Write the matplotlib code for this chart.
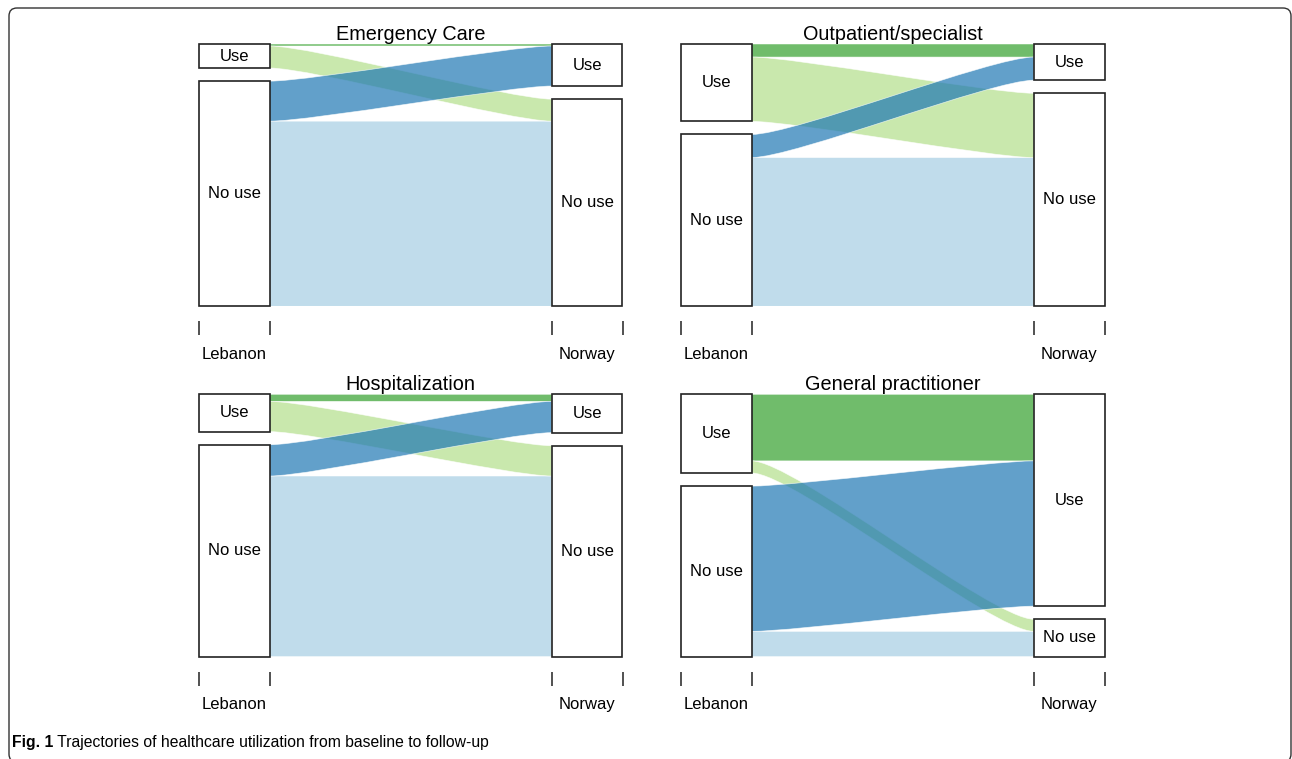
import matplotlib
matplotlib.use("Agg")
import matplotlib.pyplot as plt
from matplotlib.path import Path
from matplotlib.patches import PathPatch, Rectangle, FancyBboxPatch

# flow sizes (arbitrary units, per panel)
panels = ["Emergency Care", "Outpatient/specialist", "Hospitalization", "General practitioner"]
use_use = [2, 13, 7, 66]
use_nouse = [22, 64, 30, 12]
nouse_use = [40, 23, 31, 144]
nouse_nouse = [185, 148, 179, 25]
times = ["Lebanon", "Norway"]
states = ["Use", "No use"]

# RColorBrewer "Paired" colours, drawn with alpha
col_uu = "#33A02C"
col_un = "#B2DF8A"
col_nu = "#1F78B4"
col_nn = "#A6CEE3"
ALPHA = 0.7

plt.rcParams["font.family"] = ["Liberation Sans", "DejaVu Sans"]

GAP = 0.05
CW = 0.1
CTRL = 0.12


def flow(ax, lt, lb, rt, rb, color):
    x0, x1 = 1 + CW, 2 - CW
    verts = [(x0, lt), (x0 + CTRL, lt), (x1 - CTRL, rt), (x1, rt),
             (x1, rb),
             (x1 - CTRL, rb), (x0 + CTRL, lb), (x0, lb),
             (x0, lt)]
    codes = [Path.MOVETO, Path.CURVE4, Path.CURVE4, Path.CURVE4,
             Path.LINETO,
             Path.CURVE4, Path.CURVE4, Path.CURVE4,
             Path.CLOSEPOLY]
    ax.add_patch(PathPatch(Path(verts, codes), facecolor=color, alpha=ALPHA,
                           edgecolor="white", lw=0.5, zorder=2))


def node(ax, xc, top, bottom, label):
    ax.add_patch(Rectangle((xc - CW, bottom), 2 * CW, top - bottom, facecolor="white",
                           edgecolor="#222222", lw=1.2, zorder=3, clip_on=False))
    ax.text(xc, (top + bottom) / 2, label, ha="center", va="center", fontsize=12, zorder=4)


def draw_panel(ax, title, uu, un, nu, nn):
    total = uu + un + nu + nn
    s = (1 - GAP) / total
    # left column (Lebanon)
    l_use_top = 1.0
    l_use_bot = 1.0 - s * (uu + un)
    l_no_top = l_use_bot - GAP
    # right column (Norway)
    r_use_top = 1.0
    r_use_bot = 1.0 - s * (uu + nu)
    r_no_top = r_use_bot - GAP

    flow(ax, l_no_top - s * nu, 0.0, r_no_top - s * un, 0.0, col_nn)
    flow(ax, 1.0, 1.0 - s * uu, 1.0, 1.0 - s * uu, col_uu)
    flow(ax, 1.0 - s * uu, l_use_bot, r_no_top, r_no_top - s * un, col_un)
    flow(ax, l_no_top, l_no_top - s * nu, 1.0 - s * uu, r_use_bot, col_nu)

    node(ax, 1, l_use_top, l_use_bot, states[0])
    node(ax, 1, l_no_top, 0.0, states[1])
    node(ax, 2, r_use_top, r_use_bot, states[0])
    node(ax, 2, r_no_top, 0.0, states[1])

    ax.set_xlim(1 - CW, 2 + CW)
    ax.set_ylim(0, 1)
    ax.set_title(title, fontsize=14.3, pad=2)
    for side in ["top", "right", "left"]:
        ax.spines[side].set_visible(False)
    ax.spines["bottom"].set_position(("outward", 10.8))
    ax.spines["bottom"].set_color("none")
    ax.set_yticks([])
    ax.set_xticks([1 - CW, 1 + CW, 2 - CW, 2 + CW])
    ax.set_xticklabels([])
    ax.tick_params(axis="x", which="major", direction="out", length=10, width=1.1, color="#222222")
    ax.set_xticks([1, 2], minor=True)
    ax.set_xticklabels(times, minor=True, fontsize=12)
    ax.tick_params(axis="x", which="minor", length=0, pad=18.6)


fig = plt.figure(figsize=(12.92, 7.59), dpi=100)
W, H = 1292, 759
pos = [(199, 44), (681, 44), (199, 394.3), (681, 394.3)]
for i, (px, py) in enumerate(pos):
    ax = fig.add_axes([px / W, 1 - (py + 262.3) / H, 423.5 / W, 262.3 / H])
    draw_panel(ax, panels[i], use_use[i], use_nouse[i], nouse_use[i], nouse_nouse[i])

# rounded frame around the figure
frame = FancyBboxPatch((0.09, -0.03), 12.82, 7.54, boxstyle="round,pad=0,rounding_size=0.08",
                       transform=fig.dpi_scale_trans, facecolor="none", edgecolor="#333333",
                       lw=1.0, clip_on=False)
fig.patches.append(frame)

cap_font = ["Liberation Sans", "DejaVu Sans"]
t = fig.text(12 / W, 1 - 747 / H, "Fig. 1", fontsize=11.3, fontweight="bold",
             family=cap_font, va="baseline")
plt.annotate(" Trajectories of healthcare utilization from baseline to follow-up",
             xy=(1, 0), xycoords=t, va="bottom", ha="left", fontsize=11.3,
             family=cap_font, annotation_clip=False)

fig.savefig("out.png", dpi=100)
